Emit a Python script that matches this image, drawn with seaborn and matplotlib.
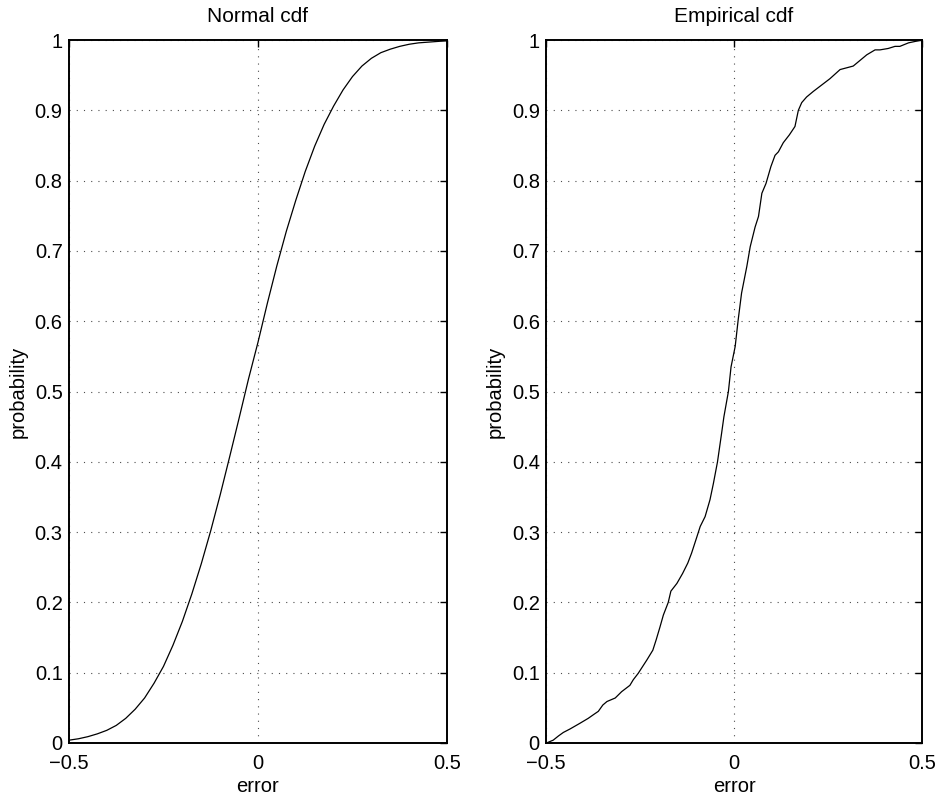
import numpy as np
import pandas as pd
import matplotlib
matplotlib.use('Agg')
import matplotlib.pyplot as plt
import seaborn as sns

# values
normal_x = [-0.5, -0.475, -0.45, -0.425, -0.4, -0.375, -0.35, -0.325, -0.3, -0.275,
            -0.25, -0.225, -0.2, -0.175, -0.15, -0.125, -0.1, -0.075, -0.05, -0.025,
            0.0, 0.025, 0.05, 0.075, 0.1, 0.125, 0.15, 0.175, 0.2, 0.225,
            0.25, 0.275, 0.3, 0.325, 0.35, 0.375, 0.4, 0.425, 0.45, 0.475, 0.5]
normal_y = [0.004, 0.006, 0.009, 0.013, 0.018, 0.025, 0.035, 0.048, 0.064, 0.085,
            0.109, 0.139, 0.173, 0.212, 0.255, 0.302, 0.353, 0.407, 0.462, 0.518,
            0.570, 0.626, 0.679, 0.728, 0.772, 0.813, 0.849, 0.880, 0.906, 0.929,
            0.948, 0.963, 0.974, 0.982, 0.987, 0.991, 0.994, 0.996, 0.997, 0.998, 0.999]

emp_x = [-0.499, -0.481, -0.467, -0.454, -0.436, -0.410, -0.388, -0.372, -0.361, -0.349,
         -0.338, -0.316, -0.299, -0.277, -0.268, -0.255, -0.232, -0.216, -0.207, -0.197,
         -0.188, -0.175, -0.168, -0.152, -0.137, -0.123, -0.113, -0.099, -0.090, -0.077,
         -0.064, -0.055, -0.044, -0.033, -0.027, -0.015, -0.008, 0.003, 0.011, 0.020,
         0.034, 0.043, 0.056, 0.065, 0.074, 0.085, 0.098, 0.109, 0.118, 0.131,
         0.147, 0.162, 0.171, 0.180, 0.193, 0.211, 0.233, 0.255, 0.282, 0.317,
         0.326, 0.353, 0.375, 0.388, 0.410, 0.428, 0.441, 0.464, 0.499]
emp_y = [0.000, 0.004, 0.010, 0.015, 0.020, 0.028, 0.035, 0.041, 0.045, 0.054,
         0.059, 0.064, 0.073, 0.082, 0.090, 0.099, 0.118, 0.132, 0.147, 0.165,
         0.182, 0.200, 0.216, 0.227, 0.241, 0.256, 0.270, 0.293, 0.308, 0.322,
         0.346, 0.369, 0.400, 0.441, 0.464, 0.500, 0.535, 0.564, 0.602, 0.640,
         0.678, 0.706, 0.734, 0.749, 0.782, 0.796, 0.820, 0.836, 0.841, 0.854,
         0.865, 0.877, 0.900, 0.911, 0.919, 0.927, 0.936, 0.945, 0.958, 0.963,
         0.967, 0.979, 0.986, 0.986, 0.988, 0.991, 0.991, 0.996, 1.000]

x_ticks = [-0.5, 0, 0.5]
x_labels = ['\u22120.5', '0', '0.5']
y_ticks = [0, 0.1, 0.2, 0.3, 0.4, 0.5, 0.6, 0.7, 0.8, 0.9, 1]
y_labels = ['0', '0.1', '0.2', '0.3', '0.4', '0.5', '0.6', '0.7', '0.8', '0.9', '1']

titles = ['Normal cdf', 'Empirical cdf']

sns.set_style('white')
plt.rcParams['font.family'] = ['Liberation Sans', 'DejaVu Sans']
plt.rcParams['text.color'] = 'black'
plt.rcParams['axes.labelcolor'] = 'black'

fig = plt.figure(figsize=(9.4, 7.96), dpi=100)
ax1 = fig.add_axes([0.0734, 0.0666, 0.4021, 0.8831])
ax2 = fig.add_axes([0.5809, 0.0666, 0.4000, 0.8831])

df_norm = pd.DataFrame({'error': normal_x, 'probability': normal_y})
df_emp = pd.DataFrame({'error': emp_x, 'probability': emp_y})

for ax, df, title in zip([ax1, ax2], [df_norm, df_emp], titles):
    sns.lineplot(data=df, x='error', y='probability', ax=ax, color='black',
                 linewidth=0.9, sort=False, estimator=None)
    ax.set_xlim(-0.5, 0.5)
    ax.set_ylim(0, 1)
    ax.set_xticks(x_ticks)
    ax.set_xticklabels(x_labels)
    ax.set_yticks(y_ticks)
    ax.set_yticklabels(y_labels)
    ax.tick_params(direction='in', top=True, right=True, length=5, width=1,
                   labelsize=14.5, colors='black')
    ax.tick_params(axis='x', pad=8)
    ax.tick_params(axis='y', pad=4.5)
    ax.grid(True, linestyle=(0, (1, 5.5)), linewidth=0.8, color='0.3')
    for s in ax.spines.values():
        s.set_visible(True)
        s.set_linewidth(1.4)
        s.set_color('black')
    ax.set_title(title, fontsize=15, pad=13, color='black')
    ax.set_xlabel('error', fontsize=14.5, labelpad=3)
    ax.set_ylabel('probability', fontsize=14.5, labelpad=5)

fig.savefig('out.png', dpi=100)
